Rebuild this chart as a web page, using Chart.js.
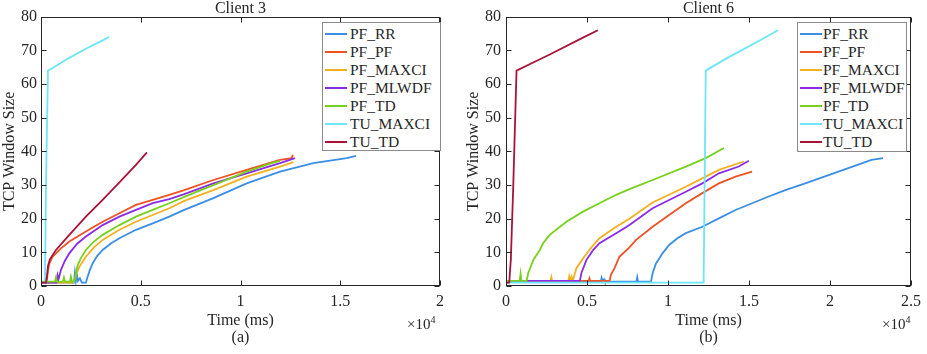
<!DOCTYPE html>
<html>
<head>
<meta charset="utf-8">
<script src="https://cdn.jsdelivr.net/npm/chart.js@4.4.0/dist/chart.umd.min.js"></script>
<style>
  body { margin: 0; background: #fff; font-family: 'Liberation Serif', 'Times New Roman', serif; }
  .panel { position: absolute; top: 0; height: 354px; }
  .legend { position: absolute; top: 22px; background: #fff; border: 1px solid #8a8a8a; box-sizing: border-box; padding-top: 2px; }
  .legend .row { height: 18px; line-height: 18px; font-size: 15.5px; color: #262626; white-space: nowrap; position: relative; }
  .legend .swatch { position: absolute; top: 8px; height: 2px; width: 22px; }
  .legend .txt { position: absolute; top: 0; }
  .mult { position: absolute; top: 314px; font-size: 15px; color: #262626; }
  .mult sup { font-size: 10px; }
</style>
</head>
<body>
<div class="panel" id="p3" style="left:0;width:463px;">
  <canvas id="chart3"></canvas>
  <div class="legend" id="legend3" style="left:322px;width:119px;height:129px;"></div>
  <div class="mult" style="left:407px;">&times;10<sup>4</sup></div>
</div>
<div class="panel" id="p6" style="left:463px;width:464px;">
  <canvas id="chart6"></canvas>
  <div class="legend" id="legend6" style="left:334px;width:110px;height:130px;"></div>
  <div class="mult" style="left:419px;">&times;10<sup>4</sup></div>
</div>
<script>
// nama seri & warna
const seriesNames = ['PF_RR', 'PF_PF', 'PF_MAXCI', 'PF_MLWDF', 'PF_TD', 'TU_MAXCI', 'TU_TD'];
const seriesColors = ['#3a8ee6', '#ee5222', '#f2b01e', '#8a2be6', '#77d11a', '#6ce6f8', '#a81438'];

// sumbu
const yTicks = [0, 10, 20, 30, 40, 50, 60, 70, 80];
const xMax3 = 20000;
const xMax6 = 25000;

// Client 3 : [time (ms), window]
const c3PfRr = [[0,1],[1650,1],[1700,4],[1750,1.5],[1800,3.5],[1850,1.5],[1950,2.3],[2050,1],[2250,1],[2340,2.8],[2450,4.8],[2590,6.7],[2800,8.8],[3090,10.7],[3500,12.6],[3930,14.2],[4760,16.7],[5600,18.6],[6430,20.6],[7180,22.6],[8640,26.1],[10310,30.5],[11980,34],[13650,36.5],[15320,38],[15790,38.7]];
const c3PfPf = [[0,1],[250,1],[300,2],[350,4.5],[420,6.7],[585,8.7],[800,10],[1000,11.2],[1420,13.2],[2250,16.2],[3090,19.1],[3930,21.6],[4760,24.1],[5600,25.6],[6430,27.1],[7180,28.5],[8640,31.5],[10310,34.5],[11980,37.5],[12570,38],[12620,39]];
const c3PfMaxci = [[0,1],[1600,1],[1700,2],[1800,4],[1920,5.7],[2250,8.7],[2650,11.5],[3090,13.7],[3930,16.7],[4760,19.1],[5600,21.1],[6430,23.1],[7180,25.3],[8640,28.5],[10310,32.5],[11980,35.5],[12650,36.8]];
const c3PfMlwdf = [[0,1],[780,1],[830,3.2],[880,2],[1000,4.8],[1200,7.5],[1420,9.7],[1800,12.5],[2250,14.7],[3090,18.1],[3930,20.6],[4760,22.6],[5600,24.6],[6430,25.8],[7180,27.3],[8640,30.5],[10310,33.5],[11980,36.5],[12730,38]];
const c3PfTd = [[0,1.3],[700,1.3],[750,2.6],[800,1.3],[1100,1.3],[1150,2.5],[1200,1.3],[1450,1.3],[1500,2.8],[1550,1.3],[1650,1.3],[1700,2.3],[1840,6.2],[2000,8.3],[2250,10.7],[2650,13.2],[3090,15.2],[3930,18.1],[4760,20.6],[5600,22.6],[6430,24.6],[7180,26.5],[8640,30],[10310,34],[11560,36.5],[11980,37.2]];
const c3TuMaxci = [[0,1],[200,1],[250,30],[350,64],[585,64.8],[1420,67.8],[2250,70.5],[3090,73],[3420,74]];
const c3TuTd = [[0,1],[250,1],[300,3],[350,6],[450,8],[750,10.7],[1420,15.2],[2250,20.6],[3090,25.6],[3930,30.8],[4760,36],[5310,39.7]];

// Client 6
const c6PfRr = [[0,1.3],[5850,1.3],[5900,2.4],[5950,1.5],[6050,2],[6100,1.3],[8050,1.3],[8100,2.6],[8150,1.3],[8950,1.3],[9050,3.8],[9260,6.7],[9460,8.2],[9660,9.7],[10070,12.2],[10580,14.2],[11100,15.7],[12120,17.6],[13140,20.1],[14170,22.6],[15190,24.6],[16220,26.6],[17240,28.5],[18470,30.5],[20520,34],[22560,37.5],[23280,38]];
const c6PfPf = [[0,1.5],[5100,1.5],[5150,2.3],[5200,1.5],[6390,1.5],[6490,3.5],[6700,5.3],[7000,8.7],[7620,11.5],[8030,13.7],[9050,17.6],[10070,21.1],[11100,24.6],[12120,27.6],[13140,30.5],[14170,32.5],[15190,34]];
const c6PfMaxci = [[0,1.5],[2750,1.5],[2800,2.6],[2850,1.5],[3850,1.5],[3900,2.8],[3950,1.5],[4000,1.5],[4050,2.6],[4100,1.5],[4150,2],[4340,5.2],[4750,8.2],[5260,11.4],[5770,14.2],[6800,17.6],[7620,20],[9050,24.8],[11100,29.5],[12330,32.5],[13140,34.5],[14680,37]];
const c6PfMlwdf = [[0,1.5],[4550,1.5],[4600,2.5],[4650,3.8],[4960,7.7],[5350,10.5],[5770,12.7],[6800,15.7],[7620,18.1],[9050,23.1],[11100,28],[12120,30.5],[13140,33.5],[14370,35.5],[14990,37.2]];
const c6PfTd = [[0,1.5],[850,1.5],[900,3.6],[950,1.5],[1270,1.5],[1370,3.8],[1680,7.7],[2090,10.7],[2290,12.7],[2700,15.2],[3730,19.1],[4750,22.1],[5770,24.6],[6800,27.1],[7620,28.8],[9050,31.5],[11100,35.5],[12330,38],[13450,41]];
const c6TuMaxci = [[0,1],[12200,1],[12330,64],[13560,67.5],[15600,72.8],[16790,76]];
const c6TuTd = [[0,1],[200,1],[300,8],[450,30],[650,64],[1680,66.4],[2700,68.8],[4750,73.8],[5670,76]];

const client3 = [c3PfRr, c3PfPf, c3PfMaxci, c3PfMlwdf, c3PfTd, c3TuMaxci, c3TuTd];
const client6 = [c6PfRr, c6PfPf, c6PfMaxci, c6PfMlwdf, c6PfTd, c6TuMaxci, c6TuTd];

const FONT = "'Liberation Serif', 'Times New Roman', serif";
const INK = '#262626';

// kotak sumbu + tick ke dalam (gaya MATLAB)
const boxTicks = {
    id: 'boxTicks',
    afterDraw(chart) {
        const { ctx, chartArea: a, scales: { x, y } } = chart;
        const L = Math.round(a.left) + 0.5, R = Math.round(a.right) - 0.5;
        const T = Math.round(a.top) + 0.5, B = Math.round(a.bottom) - 0.5;
        ctx.save();
        ctx.strokeStyle = INK;
        ctx.lineWidth = 1;
        ctx.strokeRect(L, T, R - L, B - T);
        ctx.beginPath();
        x.ticks.forEach(t => {
            const px = Math.round(x.getPixelForValue(t.value)) + 0.5;
            ctx.moveTo(px, B); ctx.lineTo(px, B - 5);
            ctx.moveTo(px, T); ctx.lineTo(px, T + 5);
        });
        y.ticks.forEach(t => {
            const py = Math.round(y.getPixelForValue(t.value)) + 0.5;
            ctx.moveTo(L, py); ctx.lineTo(L + 5, py);
            ctx.moveTo(R, py); ctx.lineTo(R - 5, py);
        });
        ctx.stroke();
        ctx.restore();
    }
};

function makeChart(canvasId, title, subLabel, xMax, series, yAxisWidth, rightPad, yPad, yTitlePad) {
    const ctx = document.getElementById(canvasId).getContext('2d');
    const datasets = series.map((pts, i) => ({
        label: seriesNames[i],
        data: pts.map(p => ({ x: p[0], y: p[1] })),
        borderColor: seriesColors[i],
        backgroundColor: seriesColors[i],
        borderWidth: 1.8,
        pointRadius: 0,
        tension: 0,
        fill: false,
        order: series.length - i
    }));

    return new Chart(ctx, {
        type: 'line',
        data: { datasets: datasets },
        options: {
            responsive: true,
            maintainAspectRatio: false,
            animation: false,
            layout: { padding: { left: 0, right: rightPad, top: 0, bottom: 0 } },
            scales: {
                x: {
                    type: 'linear',
                    min: 0,
                    max: xMax,
                    grid: { display: false, drawTicks: false },
                    border: { display: false },
                    afterFit: scale => { scale.height = 68; },
                    ticks: {
                        stepSize: 5000,
                        autoSkip: false,
                        maxRotation: 0,
                        padding: 6,
                        color: INK,
                        font: { family: FONT, size: 16, lineHeight: 1.2 },
                        callback: value => String(value / 10000)
                    },
                    title: {
                        display: true,
                        text: ['Time (ms)', subLabel],
                        color: INK,
                        font: { family: FONT, size: 16, lineHeight: 1.1 },
                        padding: { top: 0, bottom: 7 }
                    }
                },
                y: {
                    min: 0,
                    max: 80,
                    grid: { display: false, drawTicks: false },
                    border: { display: false },
                    afterFit: scale => { scale.width = yAxisWidth; },
                    afterBuildTicks: scale => { scale.ticks = yTicks.map(v => ({ value: v })); },
                    ticks: {
                        padding: yPad,
                        color: INK,
                        font: { family: FONT, size: 16, lineHeight: 1.2 }
                    },
                    title: {
                        display: true,
                        text: 'TCP Window Size',
                        color: INK,
                        font: { family: FONT, size: 16, lineHeight: 1.2 },
                        padding: { top: yTitlePad, bottom: 0 }
                    }
                }
            },
            plugins: {
                legend: { display: false },
                tooltip: { enabled: false },
                title: {
                    display: true,
                    text: title,
                    fullSize: false,
                    color: INK,
                    font: { family: FONT, size: 16, weight: 'normal', lineHeight: 1.05 },
                    padding: 0
                }
            }
        },
        plugins: [boxTicks]
    });
}

function buildLegend(id, lineLeft, textLeft) {
    const el = document.getElementById(id);
    seriesNames.forEach((name, i) => {
        const row = document.createElement('div');
        row.className = 'row';
        const sw = document.createElement('span');
        sw.className = 'swatch';
        sw.style.left = lineLeft + 'px';
        sw.style.background = seriesColors[i];
        const tx = document.createElement('span');
        tx.className = 'txt';
        tx.style.left = textLeft + 'px';
        tx.textContent = name;
        row.appendChild(sw);
        row.appendChild(tx);
        el.appendChild(row);
    });
}

makeChart('chart3', 'Client 3', '(a)', xMax3, client3, 41, 23, 4, 0);
makeChart('chart6', 'Client 6', '(b)', xMax6, client6, 43, 14, 5, 1);
buildLegend('legend3', 2, 27);
buildLegend('legend6', 2, 25);
</script>
</body>
</html>
